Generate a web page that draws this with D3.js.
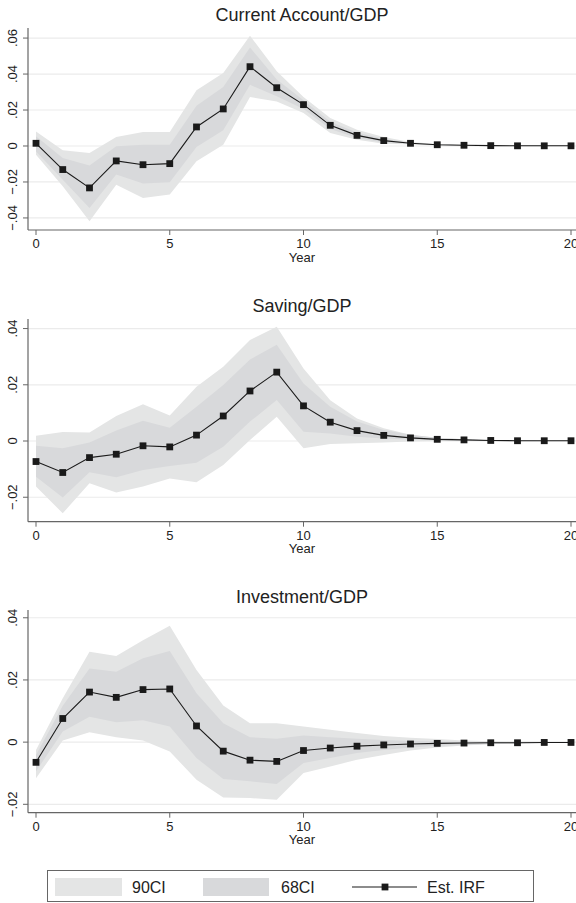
<!DOCTYPE html>
<html>
<head>
<meta charset="utf-8">
<style>
  body { margin: 0; background: #fff; }
  text { font-family: "Liberation Sans", Arial, sans-serif; fill: #222; }
</style>
</head>
<body>
<svg width="576" height="903"></svg>
<script src="https://d3js.org/d3.v7.min.js"></script>
<script>

// horizon (years)
var years = [0,1,2,3,4,5,6,7,8,9,10,11,12,13,14,15,16,17,18,19,20];
var xTicks = [0,5,10,15,20];

// Current Account/GDP
var caIrf  = [0.0015,-0.0131,-0.0233,-0.0083,-0.0104,-0.0098,0.0106,0.0206,0.0441,0.0324,0.0230,0.0115,0.0059,0.0030,0.0015,0.0007,0.0004,0.0002,0.0001,0.0001,0.0001];
var caHi90 = [0.0081,-0.0024,-0.0039,0.0050,0.0078,0.0078,0.0310,0.0406,0.0613,0.0415,0.0272,0.0156,0.0090,0.0050,0.0022,0.0011,0.0005,0.0003,0.0002,0.0001,0.0001];
var caLo90 = [-0.0048,-0.0224,-0.0419,-0.0215,-0.0289,-0.0270,-0.0085,0.0007,0.0272,0.0248,0.0183,0.0072,0.0035,0.0013,0.0008,0.0003,0.0002,0.0001,0.0000,0.0000,0.0000];
var caHi68 = [0.0054,-0.0067,-0.0109,-0.0002,0.0007,0.0007,0.0224,0.0328,0.0548,0.0369,0.0255,0.0135,0.0075,0.0040,0.0018,0.0008,0.0004,0.0002,0.0001,0.0001,0.0001];
var caLo68 = [-0.0030,-0.0187,-0.0344,-0.0159,-0.0209,-0.0202,-0.0006,0.0087,0.0340,0.0276,0.0205,0.0095,0.0045,0.0020,0.0012,0.0005,0.0003,0.0001,0.0001,0.0000,0.0000];
var caTicks = [-0.04,-0.02,0,0.02,0.04,0.06];

// Saving/GDP
var svIrf  = [-0.0073,-0.0112,-0.0059,-0.0047,-0.0017,-0.0021,0.0021,0.0089,0.0178,0.0245,0.0125,0.0067,0.0037,0.0020,0.0011,0.0006,0.0004,0.0002,0.0001,0.0001,0.0001];
var svHi90 = [0.0019,0.0032,0.0030,0.0089,0.0131,0.0091,0.0193,0.0264,0.0359,0.0406,0.0258,0.0145,0.0080,0.0045,0.0022,0.0011,0.0006,0.0003,0.0002,0.0001,0.0001];
var svLo90 = [-0.0162,-0.0257,-0.0150,-0.0183,-0.0162,-0.0133,-0.0147,-0.0085,0.0004,0.0086,-0.0026,-0.0011,-0.0008,-0.0005,-0.0002,0.0000,0.0000,0.0000,0.0000,0.0000,0.0000];
var svHi68 = [-0.0017,-0.0026,-0.0005,0.0037,0.0072,0.0047,0.0122,0.0199,0.0290,0.0342,0.0205,0.0122,0.0069,0.0039,0.0022,0.0012,0.0006,0.0003,0.0002,0.0001,0.0001];
var svLo68 = [-0.0127,-0.0201,-0.0111,-0.0129,-0.0103,-0.0089,-0.0077,-0.0020,0.0069,0.0146,0.0033,0.0027,0.0015,0.0009,0.0005,0.0003,0.0002,0.0001,0.0000,0.0000,0.0000];
var svTicks = [-0.02,0,0.02,0.04];

// Investment/GDP
var invIrf  = [-0.0065,0.0076,0.0161,0.0144,0.0169,0.0171,0.0052,-0.0029,-0.0058,-0.0062,-0.0027,-0.0019,-0.0013,-0.0009,-0.0006,-0.0004,-0.0003,-0.0002,-0.0002,-0.0001,-0.0001];
var invHi90 = [-0.0025,0.0141,0.0291,0.0277,0.0328,0.0374,0.0232,0.0118,0.0061,0.0061,0.0050,0.0040,0.0029,0.0020,0.0014,0.0010,0.0005,0.0003,0.0002,0.0001,0.0001];
var invLo90 = [-0.0116,0.0005,0.0032,0.0016,0.0005,-0.0030,-0.0121,-0.0178,-0.0180,-0.0185,-0.0099,-0.0078,-0.0057,-0.0041,-0.0027,-0.0017,-0.0011,-0.0007,-0.0005,-0.0003,-0.0002];
var invHi68 = [-0.0041,0.0117,0.0237,0.0226,0.0270,0.0293,0.0157,0.0061,0.0016,0.0011,0.0021,0.0016,0.0011,0.0007,0.0004,0.0002,0.0001,0.0000,0.0000,0.0000,0.0000];
var invLo68 = [-0.0094,0.0034,0.0082,0.0064,0.0070,0.0050,-0.0051,-0.0119,-0.0126,-0.0135,-0.0067,-0.0051,-0.0035,-0.0025,-0.0017,-0.0012,-0.0009,-0.0006,-0.0004,-0.0003,-0.0002];
var invTicks = [-0.02,0,0.02,0.04];

var legendLabels = ["90CI", "68CI", "Est. IRF"];

var col90 = "#e4e5e5", col68 = "#d8d9db", colLine = "#1a1a1a", colAxis = "#666", colGrid = "#ebebeb";

var svg = d3.select("svg");

var x = d3.scaleLinear().domain([0, 20]).range([36, 571]);
var axisLeft = 28, axisRight = 576;

var panels = [
  {title: "Current Account/GDP", irf: caIrf, hi90: caHi90, lo90: caLo90, hi68: caHi68, lo68: caLo68, ticks: caTicks,
   domain: [-0.0467, 0.0656], top: 28, bottom: 230},
  {title: "Saving/GDP", irf: svIrf, hi90: svHi90, lo90: svLo90, hi68: svHi68, lo68: svLo68, ticks: svTicks,
   domain: [-0.0287, 0.0434], top: 319, bottom: 521.7},
  {title: "Investment/GDP", irf: invIrf, hi90: invHi90, lo90: invLo90, hi68: invHi68, lo68: invLo68, ticks: invTicks,
   domain: [-0.0227, 0.0425], top: 610, bottom: 812.7}
];

function fmt(v) {
  if (Math.abs(v) < 1e-9) return "0";
  var s = d3.format(".2f")(Math.abs(v)).replace(/^0/, "");
  return (v < 0 ? "\u2212" : "") + s;
}

panels.forEach(function(p) {
  var y = d3.scaleLinear().domain(p.domain).range([p.bottom, p.top]);
  var g = svg.append("g");

  // gridlines
  g.selectAll(".grid").data(p.ticks).enter().append("line")
      .attr("x1", axisLeft).attr("x2", axisRight)
      .attr("y1", function(d) { return y(d); }).attr("y2", function(d) { return y(d); })
      .attr("stroke", colGrid).attr("stroke-width", 1.2);

  var band = function(lo, hi) {
    return d3.area()
      .x(function(d, i) { return x(years[i]); })
      .y0(function(d, i) { return y(lo[i]); })
      .y1(function(d, i) { return y(hi[i]); })(years);
  };

  g.append("path").attr("d", band(p.lo90, p.hi90)).attr("fill", col90);
  g.append("path").attr("d", band(p.lo68, p.hi68)).attr("fill", col68);

  var line = d3.line()
    .x(function(d, i) { return x(years[i]); })
    .y(function(d) { return y(d); });

  g.append("path").attr("d", line(p.irf))
      .attr("fill", "none").attr("stroke", colLine).attr("stroke-width", 1.1);

  g.selectAll(".mk").data(p.irf).enter().append("rect")
      .attr("x", function(d, i) { return x(years[i]) - 3.4; })
      .attr("y", function(d) { return y(d) - 3.4; })
      .attr("width", 6.8).attr("height", 6.8)
      .attr("fill", colLine);

  // y axis
  g.append("line").attr("x1", axisLeft).attr("x2", axisLeft)
      .attr("y1", p.top).attr("y2", p.bottom).attr("stroke", colAxis).attr("stroke-width", 1.2);
  p.ticks.forEach(function(t) {
    g.append("line").attr("x1", axisLeft - 5).attr("x2", axisLeft)
        .attr("y1", y(t)).attr("y2", y(t)).attr("stroke", colAxis).attr("stroke-width", 1);
    g.append("text")
        .attr("transform", "translate(17," + y(t) + ") rotate(-90)")
        .attr("text-anchor", "middle")
        .style("font-size", "13px")
        .text(fmt(t));
  });

  // x axis
  g.append("line").attr("x1", axisLeft).attr("x2", axisRight)
      .attr("y1", p.bottom).attr("y2", p.bottom).attr("stroke", colAxis).attr("stroke-width", 1.2);
  xTicks.forEach(function(t) {
    g.append("line").attr("x1", x(t)).attr("x2", x(t))
        .attr("y1", p.bottom).attr("y2", p.bottom + 5).attr("stroke", colAxis).attr("stroke-width", 1);
    g.append("text")
        .attr("x", x(t)).attr("y", p.bottom + 18)
        .attr("text-anchor", "middle")
        .style("font-size", "13px")
        .text(t);
  });
  g.append("text").attr("x", 302).attr("y", p.bottom + 31.5)
      .attr("text-anchor", "middle").style("font-size", "13px").text("Year");

  g.append("text").attr("x", 302).attr("y", p.top - 7.5)
      .attr("text-anchor", "middle").style("font-size", "18px").text(p.title);
});

// legend
var lg = svg.append("g");
lg.append("rect").attr("x", 47.5).attr("y", 870.5).attr("width", 486).attr("height", 31)
    .attr("fill", "#fff").attr("stroke", colAxis).attr("stroke-width", 1);
lg.append("rect").attr("x", 55).attr("y", 878).attr("width", 67).attr("height", 18).attr("fill", col90);
lg.append("text").attr("x", 132).attr("y", 893).style("font-size", "16px").text(legendLabels[0]);
lg.append("rect").attr("x", 203).attr("y", 878).attr("width", 66).attr("height", 18).attr("fill", col68);
lg.append("text").attr("x", 281).attr("y", 893).style("font-size", "16px").text(legendLabels[1]);
lg.append("line").attr("x1", 352).attr("x2", 417).attr("y1", 887).attr("y2", 887)
    .attr("stroke", colLine).attr("stroke-width", 1.1);
lg.append("rect").attr("x", 385 - 3.4).attr("y", 887 - 3.4).attr("width", 6.8).attr("height", 6.8).attr("fill", colLine);
lg.append("text").attr("x", 427).attr("y", 893).style("font-size", "16px").text(legendLabels[2]);

</script>
</body>
</html>
